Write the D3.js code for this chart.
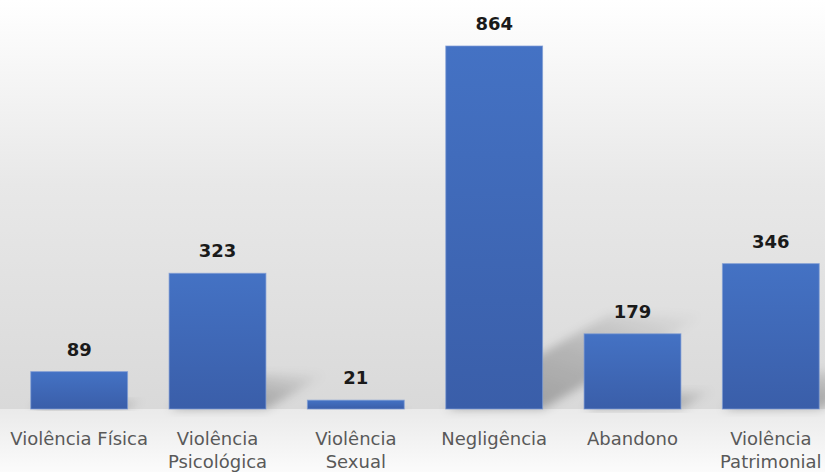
<!DOCTYPE html>
<html>
<head>
<meta charset="utf-8">
<script src="https://cdn.jsdelivr.net/npm/d3@7"></script>
<style>
  html, body { margin: 0; padding: 0; background: #fff; }
  svg { display: block; }
</style>
</head>
<body>
<div id="graph"></div>
<script>
// data
const categories = ["Violência Física", "Violência Psicológica", "Violência Sexual", "Negligência", "Abandono", "Violência Patrimonial"];
const values = [89, 323, 21, 864, 179, 346];
const labelLines = [["Violência Física"], ["Violência", "Psicológica"], ["Violência", "Sexual"], ["Negligência"], ["Abandono"], ["Violência", "Patrimonial"]];

const width = 825, height = 472;
const baseY = 409;

const svg = d3.select("#graph")
  .append("svg")
  .attr("width", width)
  .attr("height", height);

const defs = svg.append("defs");

// background: light gradient down to the baseline, then a lighter floor
const bg = defs.append("linearGradient").attr("id", "bg")
  .attr("x1", 0).attr("y1", 0).attr("x2", 0).attr("y2", 1);
bg.append("stop").attr("offset", "0%").attr("stop-color", "#ffffff");
bg.append("stop").attr("offset", "45%").attr("stop-color", "#e8e8e8");
bg.append("stop").attr("offset", "100%").attr("stop-color", "#d9d9d9");

const floor = defs.append("linearGradient").attr("id", "floor")
  .attr("x1", 0).attr("y1", 0).attr("x2", 0).attr("y2", 1);
floor.append("stop").attr("offset", "0%").attr("stop-color", "#eaeaea");
floor.append("stop").attr("offset", "100%").attr("stop-color", "#fbfbfb");

const barGrad = defs.append("linearGradient").attr("id", "bar")
  .attr("x1", 0).attr("y1", 0).attr("x2", 0).attr("y2", 1);
barGrad.append("stop").attr("offset", "0%").attr("stop-color", "#4472c4");
barGrad.append("stop").attr("offset", "100%").attr("stop-color", "#3a5ea9");

// shadow fades away from the bar
const shGrad = defs.append("linearGradient").attr("id", "shadow")
  .attr("x1", 0).attr("y1", 1).attr("x2", 1).attr("y2", 0);
shGrad.append("stop").attr("offset", "0%").attr("stop-color", "#000").attr("stop-opacity", 0.3);
shGrad.append("stop").attr("offset", "55%").attr("stop-color", "#000").attr("stop-opacity", 0.18);
shGrad.append("stop").attr("offset", "100%").attr("stop-color", "#000").attr("stop-opacity", 0);

defs.append("filter").attr("id", "blur")
  .attr("x", "-20%").attr("y", "-20%").attr("width", "140%").attr("height", "140%")
  .append("feGaussianBlur").attr("stdDeviation", 5);

svg.append("rect").attr("width", width).attr("height", baseY).attr("fill", "url(#bg)");
svg.append("rect").attr("y", baseY).attr("width", width).attr("height", height - baseY).attr("fill", "url(#floor)");

// scales
const x = d3.scaleBand()
  .domain(categories)
  .range([10, 840])
  .paddingInner(0.3)
  .paddingOuter(0.15);

const y = d3.scaleLinear()
  .domain([0, 864])
  .range([baseY, 46]);

const data = categories.map((c, i) => ({cat: c, value: values[i], lines: labelLines[i]}));

// perspective shadows behind the bars
svg.append("g")
  .selectAll("path")
  .data(data)
  .join("path")
    .attr("d", d => {
      const x0 = x(d.cat), x1 = x0 + x.bandwidth();
      const h = baseY - y(d.value);
      const dx = h * 0.45, dy = h * 0.26;
      return `M${x0},${baseY}L${x1},${baseY}L${x1 + dx},${baseY - dy}L${x0 + dx},${baseY - dy}Z`;
    })
    .attr("fill", "url(#shadow)")
    .attr("filter", "url(#blur)");

// bars
svg.append("g")
  .selectAll("rect")
  .data(data)
  .join("rect")
    .attr("x", d => x(d.cat))
    .attr("y", d => y(d.value))
    .attr("width", x.bandwidth())
    .attr("height", d => baseY - y(d.value))
    .attr("fill", "url(#bar)")
    .attr("stroke", "#7e9bd4")
    .attr("stroke-opacity", 0.7)
    .attr("stroke-width", 1);

// value labels
svg.append("g")
  .selectAll("text")
  .data(data)
  .join("text")
    .attr("x", d => x(d.cat) + x.bandwidth() / 2)
    .attr("y", d => y(d.value) - 16)
    .attr("text-anchor", "middle")
    .attr("font-family", "DejaVu Sans")
    .attr("font-weight", "bold")
    .attr("font-size", "18px")
    .attr("fill", "#1a1a1a")
    .text(d => d.value);

// category labels
const lab = svg.append("g")
  .selectAll("text")
  .data(data)
  .join("text")
    .attr("x", d => x(d.cat) + x.bandwidth() / 2)
    .attr("y", 445)
    .attr("text-anchor", "middle")
    .attr("font-family", "DejaVu Sans")
    .attr("font-size", "18px")
    .attr("fill", "#595959");

lab.selectAll("tspan")
  .data(d => d.lines)
  .join("tspan")
    .attr("x", function() { return d3.select(this.parentNode).attr("x"); })
    .attr("dy", (d, i) => i === 0 ? 0 : 23)
    .text(d => d);
</script>
</body>
</html>
